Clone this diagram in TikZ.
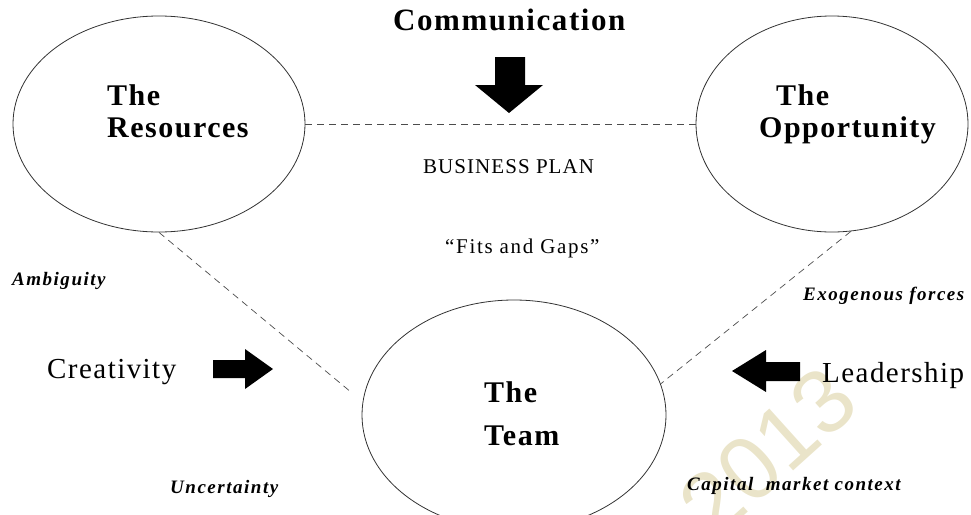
\documentclass[tikz,border=0pt]{standalone}
\usepackage{fontspec}
\setmainfont{Liberation Serif}
\newfontfamily\spacedfont[LetterSpace=5]{Liberation Serif}
\newfontfamily\widefont[LetterSpace=8]{Liberation Serif}
\newfontfamily\markfont{Liberation Sans}
\usetikzlibrary{shapes.geometric}
\definecolor{wmark}{RGB}{234,228,201}

\tikzset{
  bubble/.style={draw=black!80, line width=0.8pt, ellipse, inner sep=0pt},
  link/.style={draw=black!70, line width=0.7pt, dash pattern=on 7pt off 5pt},
  title/.style={font=\spacedfont\bfseries\fontsize{30}{30}\selectfont, anchor=base west, inner sep=0pt},
  plain/.style={font=\spacedfont\fontsize{21}{21}\selectfont, anchor=base west, inner sep=0pt},
  force/.style={font=\spacedfont\fontsize{29}{29}\selectfont, anchor=base west, inner sep=0pt},
  factor/.style={font=\widefont\bfseries\itshape\fontsize{19}{19}\selectfont, anchor=base west, inner sep=0pt}
}

\begin{document}
\begin{tikzpicture}[x=1pt,y=-1pt]
\useasboundingbox (0,0) rectangle (971,514);
% watermark
\node[rotate=42, text=wmark, font=\markfont\fontsize{90}{90}\selectfont] (wm) at (768,452) {2013};
% the three bubbles
\node[bubble, minimum width=292pt, minimum height=216pt] (res) at (159,124) {};
\node[bubble, minimum width=272pt, minimum height=216pt] (opp) at (832,124) {};
\node[bubble, minimum width=304pt, minimum height=230pt] (team) at (514,415) {};
\node[title] (resthe) at (107,105) {The};
\node[title] (resname) at (107,137) {Resources};
\node[title] (oppthe) at (776,105) {The};
\node[title] (oppname) at (759,137) {Opportunity};
\node[title] (teamthe) at (484,402) {The};
\node[title] (teamname) at (484,445) {Team};
% dashed links
\draw[link] (res.east) -- (opp.west);
\draw[link, shorten >=17pt] (res.south) -- (team.175);
\draw[link] (opp.-80) -- (team.12);
% middle texts
\node[title, font=\spacedfont\bfseries\fontsize{31}{31}\selectfont] (comm) at (393,30) {Communication};
\node[plain] (plan) at (423,173) {BUSINESS PLAN};
\node[plain, font=\widefont\fontsize{21}{21}\selectfont] (fits) at (445,253) {“Fits and Gaps”};
% forces
\node[force] (crea) at (47,378) {Creativity};
\node[force] (lead) at (822,382) {Leadership};
\node[factor] (amb) at (12,285) {Ambiguity};
\node[factor] (unc) at (170,493) {Uncertainty};
\node[factor] (exo) at (803,300) {Exogenous forces};
\node[factor] (cap) at (687,490) {Capital\ \ market context};
% block arrows
\fill (495,57) -- (525,57) -- (525,85) -- (543,85) -- (509,113) -- (475,85) -- (495,85) -- cycle;
\fill (213,360) -- (245,360) -- (245,349) -- (273,369) -- (245,389) -- (245,378) -- (213,378) -- cycle;
\fill (800,362) -- (766,362) -- (766,350) -- (732,371) -- (766,392) -- (766,381) -- (800,381) -- cycle;
\end{tikzpicture}
\end{document}
